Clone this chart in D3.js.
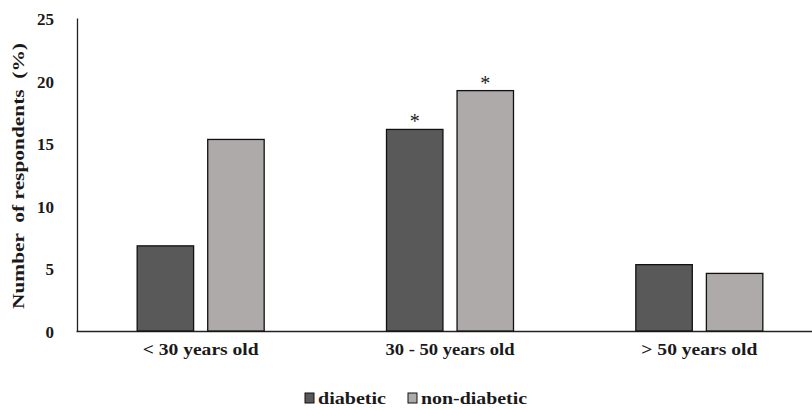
<!DOCTYPE html>
<html><head><meta charset="utf-8">
<script src="https://cdn.jsdelivr.net/npm/d3@7"></script>
<style>body{margin:0;background:#fff}svg{display:block}</style>
</head><body><svg id="c" width="812" height="410"></svg>
<script>
const categories = ["< 30 years old", "30 - 50 years old", "> 50 years old"];
const categoryWidths = [116, 129, 116];
const seriesNames = ["diabetic", "non-diabetic"];
const diabetic = [6.8, 16.1, 5.3];
const nonDiabetic = [15.3, 19.2, 4.6];
const significant = [[false, false], [true, true], [false, false]];
const yTicks = [0, 5, 10, 15, 20, 25];
const colors = ["#595959", "#aeaaaa"];
const FONT = "Liberation Serif";

const svg = d3.select("#c");
const y = d3.scaleLinear().domain([0, 25]).range([331, 18]);
const x0 = d3.scaleBand().domain(categories).range([76, 824]);
const x1 = d3.scaleBand().domain(seriesNames).range([0, 127]).paddingInner(0.2);
const color = d3.scaleOrdinal().domain(seriesNames).range(colors);

const data = categories.map((c, i) => ({cat: c, vals: [
  {s: seriesNames[0], v: diabetic[i], sig: significant[i][0]},
  {s: seriesNames[1], v: nonDiabetic[i], sig: significant[i][1]}]}));

function styleText(sel, size) {
  sel.style("font-family", FONT).style("font-weight", "bold").style("font-size", size + "px").attr("fill", "#1a1a1a");
}

// y axis
const yAxis = d3.axisLeft(y).tickValues(yTicks).tickSize(0).tickPadding(23);
const yg = svg.append("g").attr("transform", "translate(77,0)").call(yAxis);
yg.select(".domain").attr("stroke", "#222").attr("stroke-width", 1.3);
styleText(yg.selectAll("text"), 17);
yg.selectAll("text").attr("dy", "0.38em");

// x axis
const xAxis = d3.axisBottom(x0).tickSize(0).tickPadding(12);
const xg = svg.append("g").attr("transform", "translate(0,331)").call(xAxis);
xg.select(".domain").attr("stroke", "#222").attr("stroke-width", 1.3);
styleText(xg.selectAll("text"), 17);
xg.selectAll("text").attr("dy", "0.72em")
  .attr("textLength", (d, i) => categoryWidths[i]).attr("lengthAdjust", "spacingAndGlyphs");

// bars
const groups = svg.append("g").selectAll("g").data(data).join("g")
  .attr("transform", d => `translate(${x0(d.cat) + (x0.bandwidth() - 127) / 2},0)`);
groups.selectAll("rect").data(d => d.vals).join("rect")
  .attr("x", d => x1(d.s)).attr("width", x1.bandwidth())
  .attr("y", d => y(d.v)).attr("height", d => y(0) - y(d.v))
  .attr("fill", d => color(d.s)).attr("stroke", "#111").attr("stroke-width", 1.3);
const stars = groups.selectAll("text.sig").data(d => d.vals.filter(v => v.sig)).join("text")
  .attr("class", "sig")
  .attr("x", d => x1(d.s) + x1.bandwidth() / 2).attr("y", d => y(d.v) - 1)
  .attr("text-anchor", "middle").text("*");
styleText(stars, 20);
stars.style("font-weight", "normal");

// y label
const yl = svg.append("text").attr("transform", "translate(24,176) rotate(-90)")
  .attr("text-anchor", "middle")
  .attr("textLength", 266).attr("lengthAdjust", "spacingAndGlyphs")
  .text("Number  of respondents  (%)");
styleText(yl, 17);
yl.style("white-space", "pre");

// legend
const legendX = [305, 408];
const legendW = [68, 106];
const leg = svg.append("g").selectAll("g").data(seriesNames).join("g")
  .attr("transform", (d, i) => `translate(${legendX[i]},393)`);
leg.append("rect").attr("width", 9).attr("height", 10)
  .attr("fill", d => color(d)).attr("stroke", "#111").attr("stroke-width", 1);
const lt = leg.append("text").attr("x", 13).attr("y", 11)
  .attr("textLength", (d, i) => legendW[i]).attr("lengthAdjust", "spacingAndGlyphs")
  .text(d => d);
styleText(lt, 17);
</script></body></html>
